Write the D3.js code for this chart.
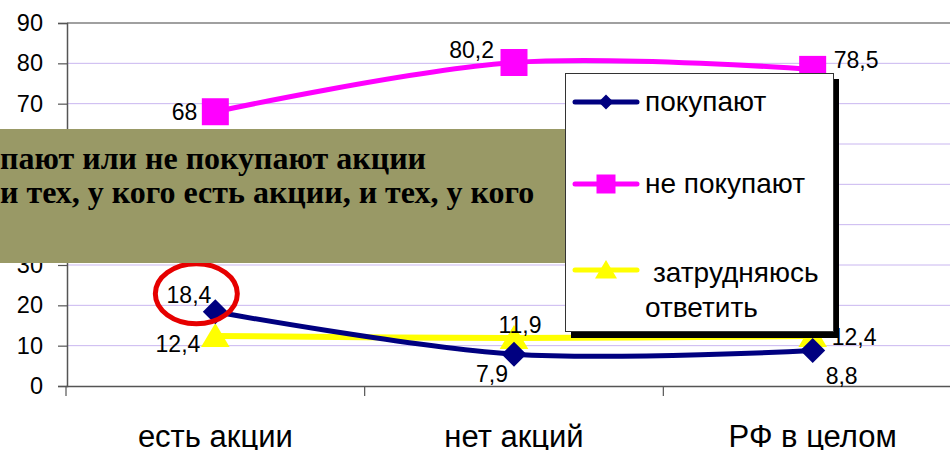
<!DOCTYPE html>
<html>
<head>
<meta charset="utf-8">
<script src="https://cdn.jsdelivr.net/npm/d3@7/dist/d3.min.js"></script>
<style>
  html, body { margin: 0; padding: 0; background: #fff; }
  svg { display: block; }
</style>
</head>
<body>
<svg id="chart" width="950" height="450"></svg>
<script>
// Survey shares, %
const categories = ["есть акции", "нет акций", "РФ в целом"];
const buying = [18.4, 7.9, 8.8];
const notBuying = [68, 80.2, 78.5];
const undecided = [12.4, 11.9, 12.4];
const yTicks = [0, 10, 20, 30, 40, 50, 60, 70, 80, 90];
const seriesNames = ["покупают", "не покупают", "затрудняюсь ответить"];
const titleLines = ["пают или не покупают акции", "и тех, у кого есть акции, и тех, у кого"];

const fmt = v => String(v).replace(".", ",");

const svg = d3.select("#chart");
const FONT = "'Liberation Sans', Arial, sans-serif";

const x = d3.scaleBand().domain(categories).range([66, 962]).padding(0);
const y = d3.scaleLinear().domain([0, 90]).range([386, 23]);
const cx = c => x(c) + x.bandwidth() / 2;

// horizontal grid
svg.append("g").selectAll("line")
  .data(yTicks.filter(t => t > 0 && t < 90))
  .join("line")
  .attr("x1", 67).attr("x2", 950)
  .attr("y1", d => y(d)).attr("y2", d => y(d))
  .attr("stroke", "#c9b6f0").attr("stroke-width", 1);

// plot top border
svg.append("line")
  .attr("x1", 67).attr("x2", 950).attr("y1", y(90)).attr("y2", y(90))
  .attr("stroke", "#808080").attr("stroke-width", 1.5);

// y axis
const yAxis = svg.append("g")
  .attr("transform", "translate(67,0)")
  .call(d3.axisLeft(y).tickValues(yTicks).tickSize(9).tickPadding(15).tickFormat(d => d));
yAxis.select(".domain").attr("stroke", "#555").attr("stroke-width", 1.5);
yAxis.selectAll(".tick line").attr("stroke", "#555").attr("stroke-width", 1.2);
yAxis.selectAll("text").attr("font-family", FONT).attr("font-size", 23.5).attr("fill", "#000");

// x axis
const xAxis = svg.append("g")
  .attr("transform", `translate(0,${y(0)})`)
  .call(d3.axisBottom(x).tickSize(0));
xAxis.select(".domain").attr("stroke", "#555").attr("stroke-width", 1.5);
xAxis.selectAll("text")
  .attr("y", 61).attr("dy", null)
  .attr("font-family", FONT).attr("font-size", 31).attr("fill", "#000");
// category boundary ticks
svg.append("g").selectAll("line")
  .data(d3.range(categories.length + 1).map(i => 66 + i * x.step()))
  .join("line")
  .attr("x1", d => d).attr("x2", d => d)
  .attr("y1", y(0)).attr("y2", y(0) + 10)
  .attr("stroke", "#555").attr("stroke-width", 1.2);

const series = [
  { name: seriesNames[0], values: buying, color: "#000080", width: 5, marker: "diamond",
    place: [[-4, -9, "end"], [-6, 28, "end"], [13, 33, "start"]] },
  { name: seriesNames[1], values: notBuying, color: "#ff00ff", width: 5, marker: "square",
    place: [[-18, 8, "end"], [-20, -5, "end"], [21, -1, "start"]] },
  { name: seriesNames[2], values: undecided, color: "#ffff00", width: 6, marker: "triangle",
    place: [[-15, 16, "end"], [6, -5, "middle"], [19, 9, "start"]] }
];

const line = d3.line()
  .x((d, i) => cx(categories[i]))
  .y(d => y(d))
  .curve(d3.curveCatmullRom.alpha(0.5));

function markerPath(type, s) {
  if (type === "diamond") return `M0,${-s}L${s},0L0,${s}L${-s},0Z`;
  if (type === "square") return `M${-s},${-s}H${s}V${s}H${-s}Z`;
  return `M0,${-s}L${s * 1.1},${s * 0.85}H${-s * 1.1}Z`;
}
const markerSize = { diamond: 12.5, square: 13.5, triangle: 13 };

// draw order: yellow, navy, pink
[series[2], series[0], series[1]].forEach(s => {
  svg.append("path")
    .attr("d", line(s.values))
    .attr("fill", "none")
    .attr("stroke", s.color)
    .attr("stroke-width", s.width)
    .attr("stroke-linejoin", "round");
});
[series[2], series[0], series[1]].forEach(s => {
  svg.append("g").selectAll("path")
    .data(s.values)
    .join("path")
    .attr("transform", (d, i) => `translate(${cx(categories[i])},${y(d)})`)
    .attr("d", markerPath(s.marker, markerSize[s.marker]))
    .attr("fill", s.color);
});

// data labels
series.forEach(s => {
  svg.append("g").selectAll("text")
    .data(s.values)
    .join("text")
    .attr("x", (d, i) => cx(categories[i]) + s.place[i][0])
    .attr("y", (d, i) => y(d) + s.place[i][1])
    .attr("text-anchor", (d, i) => s.place[i][2])
    .attr("font-family", FONT).attr("font-size", 23).attr("fill", "#000")
    .text(d => fmt(d));
});

// highlight ring around the first "покупают" value
svg.append("ellipse")
  .attr("cx", cx(categories[0]) - 19).attr("cy", y(buying[0]) - 18)
  .attr("rx", 41).attr("ry", 30)
  .attr("fill", "none").attr("stroke", "#e60000").attr("stroke-width", 5);

// heading panel
svg.append("rect")
  .attr("x", 0).attr("y", 129).attr("width", 566).attr("height", 134)
  .attr("fill", "#999966");
svg.append("g").selectAll("text")
  .data(titleLines)
  .join("text")
  .attr("x", 0)
  .attr("y", (d, i) => 169 + i * 34)
  .attr("font-family", "'Liberation Serif', 'Times New Roman', serif")
  .attr("font-weight", "bold").attr("font-size", 32).attr("fill", "#000")
  .text(d => d);

// legend
const lg = svg.append("g");
lg.append("rect").attr("x", 571).attr("y", 79).attr("width", 268).attr("height", 259).attr("fill", "#000");
lg.append("rect").attr("x", 565.5).attr("y", 73.5).attr("width", 268).attr("height", 258)
  .attr("fill", "#fff").attr("stroke", "#333").attr("stroke-width", 1);
const legendRows = [
  { s: series[0], cy: 102, lines: [[645, 111, "покупают"]], m: 7.5 },
  { s: series[1], cy: 184, lines: [[645, 193, "не покупают"]], m: 9.5 },
  { s: series[2], cy: 270, lines: [[653, 282, "затрудняюсь"], [645, 317, "ответить"]], m: 10 }
];
legendRows.forEach(r => {
  lg.append("line").attr("x1", 575).attr("x2", 637).attr("y1", r.cy).attr("y2", r.cy)
    .attr("stroke", r.s.color).attr("stroke-width", 5).attr("stroke-linecap", "round");
  lg.append("path").attr("transform", `translate(606,${r.cy})`)
    .attr("d", markerPath(r.s.marker, r.m)).attr("fill", r.s.color);
  r.lines.forEach(t => {
    lg.append("text").attr("x", t[0]).attr("y", t[1])
      .attr("font-family", FONT).attr("font-size", 28).attr("fill", "#000").text(t[2]);
  });
});
</script>
</body>
</html>
